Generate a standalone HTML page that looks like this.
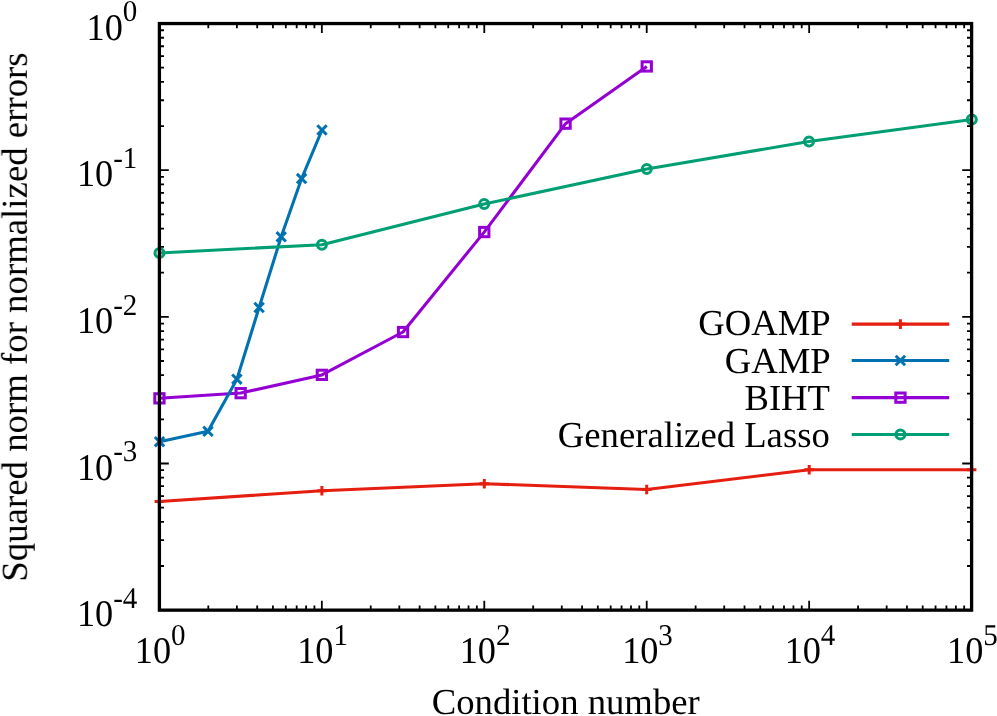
<!DOCTYPE html>
<html><head><meta charset="utf-8"><title>plot</title>
<style>
html,body{margin:0;padding:0;background:#fff;}
svg{display:block;}
text{font-family:"Liberation Serif",serif;fill:#000;text-rendering:geometricPrecision;}
svg{will-change:transform;}
#labels{filter:grayscale(1);}
</style></head><body>
<svg width="997" height="716" viewBox="0 0 997 716">
<rect width="997" height="716" fill="#fff"/>
<path d="M208.30 610.15v-4.6M208.30 23.55v4.6M236.90 610.15v-4.6M236.90 23.55v4.6M257.20 610.15v-4.6M257.20 23.55v4.6M272.94 610.15v-4.6M272.94 23.55v4.6M285.80 610.15v-4.6M285.80 23.55v4.6M296.68 610.15v-4.6M296.68 23.55v4.6M306.10 610.15v-4.6M306.10 23.55v4.6M314.41 610.15v-4.6M314.41 23.55v4.6M321.84 610.15v-9.4M321.84 23.55v9.4M370.74 610.15v-4.6M370.74 23.55v4.6M399.34 610.15v-4.6M399.34 23.55v4.6M419.64 610.15v-4.6M419.64 23.55v4.6M435.38 610.15v-4.6M435.38 23.55v4.6M448.24 610.15v-4.6M448.24 23.55v4.6M459.12 610.15v-4.6M459.12 23.55v4.6M468.54 610.15v-4.6M468.54 23.55v4.6M476.85 610.15v-4.6M476.85 23.55v4.6M484.28 610.15v-9.4M484.28 23.55v9.4M533.18 610.15v-4.6M533.18 23.55v4.6M561.78 610.15v-4.6M561.78 23.55v4.6M582.08 610.15v-4.6M582.08 23.55v4.6M597.82 610.15v-4.6M597.82 23.55v4.6M610.68 610.15v-4.6M610.68 23.55v4.6M621.56 610.15v-4.6M621.56 23.55v4.6M630.98 610.15v-4.6M630.98 23.55v4.6M639.29 610.15v-4.6M639.29 23.55v4.6M646.72 610.15v-9.4M646.72 23.55v9.4M695.62 610.15v-4.6M695.62 23.55v4.6M724.22 610.15v-4.6M724.22 23.55v4.6M744.52 610.15v-4.6M744.52 23.55v4.6M760.26 610.15v-4.6M760.26 23.55v4.6M773.12 610.15v-4.6M773.12 23.55v4.6M784.00 610.15v-4.6M784.00 23.55v4.6M793.42 610.15v-4.6M793.42 23.55v4.6M801.73 610.15v-4.6M801.73 23.55v4.6M809.16 610.15v-9.4M809.16 23.55v9.4M858.06 610.15v-4.6M858.06 23.55v4.6M886.66 610.15v-4.6M886.66 23.55v4.6M906.96 610.15v-4.6M906.96 23.55v4.6M922.70 610.15v-4.6M922.70 23.55v4.6M935.56 610.15v-4.6M935.56 23.55v4.6M946.44 610.15v-4.6M946.44 23.55v4.6M955.86 610.15v-4.6M955.86 23.55v4.6M964.17 610.15v-4.6M964.17 23.55v4.6M159.4 566.00h4.6M971.6 566.00h-4.6M159.4 540.18h4.6M971.6 540.18h-4.6M159.4 521.86h4.6M971.6 521.86h-4.6M159.4 507.65h4.6M971.6 507.65h-4.6M159.4 496.03h4.6M971.6 496.03h-4.6M159.4 486.22h4.6M971.6 486.22h-4.6M159.4 477.71h4.6M971.6 477.71h-4.6M159.4 470.21h4.6M971.6 470.21h-4.6M159.4 463.50h9.4M971.6 463.50h-9.4M159.4 419.35h4.6M971.6 419.35h-4.6M159.4 393.53h4.6M971.6 393.53h-4.6M159.4 375.21h4.6M971.6 375.21h-4.6M159.4 361.00h4.6M971.6 361.00h-4.6M159.4 349.38h4.6M971.6 349.38h-4.6M159.4 339.57h4.6M971.6 339.57h-4.6M159.4 331.06h4.6M971.6 331.06h-4.6M159.4 323.56h4.6M971.6 323.56h-4.6M159.4 316.85h9.4M971.6 316.85h-9.4M159.4 272.70h4.6M971.6 272.70h-4.6M159.4 246.88h4.6M971.6 246.88h-4.6M159.4 228.56h4.6M971.6 228.56h-4.6M159.4 214.35h4.6M971.6 214.35h-4.6M159.4 202.73h4.6M971.6 202.73h-4.6M159.4 192.92h4.6M971.6 192.92h-4.6M159.4 184.41h4.6M971.6 184.41h-4.6M159.4 176.91h4.6M971.6 176.91h-4.6M159.4 170.20h9.4M971.6 170.20h-9.4M159.4 126.05h4.6M971.6 126.05h-4.6M159.4 100.23h4.6M971.6 100.23h-4.6M159.4 81.91h4.6M971.6 81.91h-4.6M159.4 67.70h4.6M971.6 67.70h-4.6M159.4 56.08h4.6M971.6 56.08h-4.6M159.4 46.27h4.6M971.6 46.27h-4.6M159.4 37.76h4.6M971.6 37.76h-4.6M159.4 30.26h4.6M971.6 30.26h-4.6" stroke="#000" stroke-width="1.8" fill="none"/>
<g>
<polyline points="159.4,501.6 321.9,490.7 484.3,483.7 646.7,489.5 809.2,469.8 971.6,469.8" fill="none" stroke="#e51e10" stroke-width="3.05" stroke-linejoin="round" stroke-linecap="butt"/>
<path d="M154.6 501.6H164.2M159.4 496.8V506.4" stroke="#e51e10" stroke-width="3.0" fill="none"/>
<path d="M317.1 490.7H326.7M321.9 485.9V495.5" stroke="#e51e10" stroke-width="3.0" fill="none"/>
<path d="M479.5 483.7H489.1M484.3 478.9V488.5" stroke="#e51e10" stroke-width="3.0" fill="none"/>
<path d="M641.9 489.5H651.5M646.7 484.7V494.3" stroke="#e51e10" stroke-width="3.0" fill="none"/>
<path d="M804.4 469.8H814.0M809.2 465.0V474.6" stroke="#e51e10" stroke-width="3.0" fill="none"/>
<path d="M966.8 469.8H976.4M971.6 465.0V474.6" stroke="#e51e10" stroke-width="3.0" fill="none"/>
<path d="M851.7 324.1H949.2" stroke="#e51e10" stroke-width="3.05" fill="none"/>
<path d="M895.6 324.1H905.2M900.4 319.3V328.9" stroke="#e51e10" stroke-width="3.0" fill="none"/>
</g>
<g>
<polyline points="159.5,398.3 240.7,393.1 321.9,374.9 403.0,332.0 484.2,232.1 565.5,123.7 646.8,66.4" fill="none" stroke="#9400d3" stroke-width="3.05" stroke-linejoin="round" stroke-linecap="butt"/>
<rect x="154.8" y="393.7" width="9.3" height="9.3" stroke="#9400d3" stroke-width="3.0" fill="none"/>
<rect x="236.0" y="388.5" width="9.3" height="9.3" stroke="#9400d3" stroke-width="3.0" fill="none"/>
<rect x="317.2" y="370.2" width="9.3" height="9.3" stroke="#9400d3" stroke-width="3.0" fill="none"/>
<rect x="398.4" y="327.4" width="9.3" height="9.3" stroke="#9400d3" stroke-width="3.0" fill="none"/>
<rect x="479.6" y="227.4" width="9.3" height="9.3" stroke="#9400d3" stroke-width="3.0" fill="none"/>
<rect x="560.9" y="119.0" width="9.3" height="9.3" stroke="#9400d3" stroke-width="3.0" fill="none"/>
<rect x="642.1" y="61.8" width="9.3" height="9.3" stroke="#9400d3" stroke-width="3.0" fill="none"/>
<path d="M851.7 397.6H949.2" stroke="#9400d3" stroke-width="3.05" fill="none"/>
<rect x="895.8" y="393.0" width="9.3" height="9.3" stroke="#9400d3" stroke-width="3.0" fill="none"/>
</g>
<g>
<polyline points="159.5,441.7 208.0,431.3 236.9,379.2 259.1,307.5 281.2,236.8 301.6,178.6 322.0,130.0" fill="none" stroke="#0072b2" stroke-width="3.05" stroke-linejoin="round" stroke-linecap="butt"/>
<path d="M154.8 437.0L164.2 446.4M154.8 446.4L164.2 437.0" stroke="#0072b2" stroke-width="3.0" fill="none"/>
<path d="M203.3 426.6L212.7 436.0M203.3 436.0L212.7 426.6" stroke="#0072b2" stroke-width="3.0" fill="none"/>
<path d="M232.2 374.5L241.6 383.9M232.2 383.9L241.6 374.5" stroke="#0072b2" stroke-width="3.0" fill="none"/>
<path d="M254.4 302.8L263.8 312.2M254.4 312.2L263.8 302.8" stroke="#0072b2" stroke-width="3.0" fill="none"/>
<path d="M276.5 232.1L285.9 241.5M276.5 241.5L285.9 232.1" stroke="#0072b2" stroke-width="3.0" fill="none"/>
<path d="M296.9 173.9L306.3 183.3M296.9 183.3L306.3 173.9" stroke="#0072b2" stroke-width="3.0" fill="none"/>
<path d="M317.3 125.3L326.7 134.7M317.3 134.7L326.7 125.3" stroke="#0072b2" stroke-width="3.0" fill="none"/>
<path d="M851.7 360.5H949.2" stroke="#0072b2" stroke-width="3.05" fill="none"/>
<path d="M895.7 355.8L905.1 365.2M895.7 365.2L905.1 355.8" stroke="#0072b2" stroke-width="3.0" fill="none"/>
</g>
<g>
<polyline points="159.5,252.9 321.9,244.7 484.2,204.0 646.8,169.1 809.0,141.4 971.8,119.5" fill="none" stroke="#009e73" stroke-width="3.05" stroke-linejoin="round" stroke-linecap="butt"/>
<circle cx="159.5" cy="252.9" r="4.5" stroke="#009e73" stroke-width="3.0" fill="none"/>
<circle cx="321.9" cy="244.7" r="4.5" stroke="#009e73" stroke-width="3.0" fill="none"/>
<circle cx="484.2" cy="204.0" r="4.5" stroke="#009e73" stroke-width="3.0" fill="none"/>
<circle cx="646.8" cy="169.1" r="4.5" stroke="#009e73" stroke-width="3.0" fill="none"/>
<circle cx="809.0" cy="141.4" r="4.5" stroke="#009e73" stroke-width="3.0" fill="none"/>
<circle cx="971.8" cy="119.5" r="4.5" stroke="#009e73" stroke-width="3.0" fill="none"/>
<path d="M851.7 434.5H949.2" stroke="#009e73" stroke-width="3.05" fill="none"/>
<circle cx="900.4" cy="434.5" r="4.5" stroke="#009e73" stroke-width="3.0" fill="none"/>
</g>
<rect x="159.4" y="23.55" width="812.2" height="586.6" fill="none" stroke="#000" stroke-width="3.3"/>
<g id="labels">
<text id="lg0" x="830.7" y="335.4" font-size="36.7" text-anchor="end">GOAMP</text>
<text id="lg1" x="830.7" y="372.5" font-size="36.7" text-anchor="end">GAMP</text>
<text id="lg2" x="830.0" y="409.5" font-size="36.7" text-anchor="end">BIHT</text>
<text id="lg3" x="829.8" y="446.5" font-size="36.7" text-anchor="end">Generalized Lasso</text>
<text id="yt0" transform="translate(137.3 39.8) scale(0.98 1.02)" font-size="37.0" text-anchor="end">10<tspan font-size="29.6" dy="-18.2">0</tspan></text>
<text id="yt1" transform="translate(137.3 186.4) scale(0.98 1.02)" font-size="37.0" text-anchor="end">10<tspan font-size="29.6" dy="-18.2">-1</tspan></text>
<text id="yt2" transform="translate(137.3 333.1) scale(0.98 1.02)" font-size="37.0" text-anchor="end">10<tspan font-size="29.6" dy="-18.2">-2</tspan></text>
<text id="yt3" transform="translate(137.3 479.7) scale(0.98 1.02)" font-size="37.0" text-anchor="end">10<tspan font-size="29.6" dy="-18.2">-3</tspan></text>
<text id="yt4" transform="translate(137.3 626.4) scale(0.98 1.02)" font-size="37.0" text-anchor="end">10<tspan font-size="29.6" dy="-18.2">-4</tspan></text>
<text id="xt0" transform="translate(160.2 663.2) scale(0.98 1.02)" font-size="37.0" text-anchor="middle">10<tspan font-size="29.6" dy="-18.2">0</tspan></text>
<text id="xt1" transform="translate(322.6 663.2) scale(0.98 1.02)" font-size="37.0" text-anchor="middle">10<tspan font-size="29.6" dy="-18.2">1</tspan></text>
<text id="xt2" transform="translate(485.1 663.2) scale(0.98 1.02)" font-size="37.0" text-anchor="middle">10<tspan font-size="29.6" dy="-18.2">2</tspan></text>
<text id="xt3" transform="translate(647.5 663.2) scale(0.98 1.02)" font-size="37.0" text-anchor="middle">10<tspan font-size="29.6" dy="-18.2">3</tspan></text>
<text id="xt4" transform="translate(810.0 663.2) scale(0.98 1.02)" font-size="37.0" text-anchor="middle">10<tspan font-size="29.6" dy="-18.2">4</tspan></text>
<text id="xt5" transform="translate(972.4 663.2) scale(0.98 1.02)" font-size="37.0" text-anchor="middle">10<tspan font-size="29.6" dy="-18.2">5</tspan></text>
<text id="xl" x="565.75" y="713.6" font-size="36.7" text-anchor="middle">Condition number</text>
<text id="yl" transform="translate(26.8 317.0) rotate(-90)" font-size="36.8" text-anchor="middle">Squared norm for normalized errors</text>
</g>
</svg>
</body></html>
